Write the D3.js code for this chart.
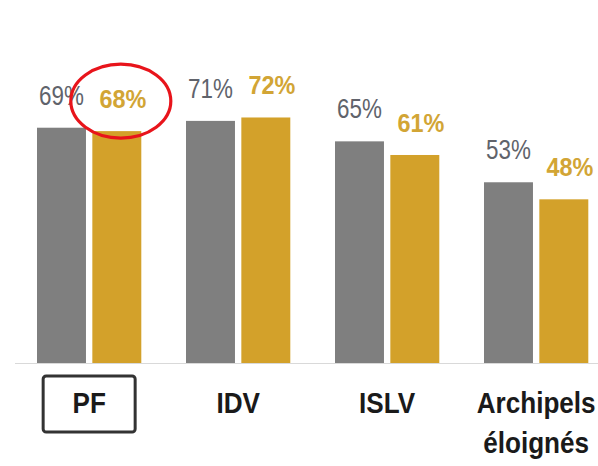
<!DOCTYPE html>
<html>
<head>
<meta charset="utf-8">
<script src="https://cdn.jsdelivr.net/npm/d3@7"></script>
<style>
  html, body { margin: 0; padding: 0; background: #fff; }
  svg { display: block; font-family: "Liberation Sans", Arial, sans-serif; }
</style>
</head>
<body>
<svg id="chart" width="598" height="466"></svg>
<script>
"use strict"

// data
var categories = ["PF", "IDV", "ISLV", "Archipels\néloignés"];
var seriesNames = ["grey", "gold"];
var greyValues = [69, 71, 65, 53];
var goldValues = [68, 72, 61, 48];
var highlighted = "PF";

var colors = { grey: "#7f7f7f", gold: "#d3a12a" };
var labelColors = { grey: "#60636b", gold: "#d2a535" };
var labelStyle = {
    grey: { size: 28, weight: "normal", sx: 0.8, dx: 0 },
    gold: { size: 26, weight: "bold", sx: 0.9, dx: 6 }
};

var svg = d3.select("#chart"),
    width = +svg.attr("width"),
    height = +svg.attr("height");

var baseline = 363;

var x = d3.scaleBand()
    .domain(categories)
    .range([14.65, 610.65])
    .paddingInner(0.3)
    .paddingOuter(0.15);

var xInner = d3.scaleBand()
    .domain(seriesNames)
    .range([0, x.bandwidth()])
    .paddingInner(0.115);

var y = d3.scaleLinear()
    .domain([0, 100])
    .range([baseline, 22]);

var rows = categories.map(function(c, i) {
    return { cat: c, grey: greyValues[i], gold: goldValues[i] };
});

// baseline
svg.append("line")
    .attr("x1", 15)
    .attr("x2", width)
    .attr("y1", baseline + 0.5)
    .attr("y2", baseline + 0.5)
    .attr("stroke", "#d9d9d9")
    .attr("stroke-width", 1.2);

var groups = svg.selectAll("g.group")
    .data(rows)
    .enter().append("g")
    .attr("class", "group")
    .attr("transform", function(d) { return "translate(" + x(d.cat) + ",0)"; });

groups.selectAll("rect")
    .data(function(d) { return seriesNames.map(function(s) { return { key: s, value: d[s] }; }); })
    .enter().append("rect")
    .attr("x", function(d) { return xInner(d.key); })
    .attr("width", xInner.bandwidth())
    .attr("y", function(d) { return y(d.value); })
    .attr("height", function(d) { return baseline - y(d.value); })
    .attr("fill", function(d) { return colors[d.key]; });

// value labels, condensed like the original
groups.selectAll("g.val")
    .data(function(d) { return seriesNames.map(function(s) { return { key: s, value: d[s] }; }); })
    .enter().append("g")
    .attr("class", "val")
    .attr("transform", function(d) {
        var st = labelStyle[d.key];
        var cx = xInner(d.key) + xInner.bandwidth() / 2 + st.dx;
        return "translate(" + cx + "," + (y(d.value) - 23) + ") scale(" + st.sx + ",1)";
    })
    .append("text")
    .attr("text-anchor", "middle")
    .style("font-size", function(d) { return labelStyle[d.key].size + "px"; })
    .style("font-weight", function(d) { return labelStyle[d.key].weight; })
    .attr("fill", function(d) { return labelColors[d.key]; })
    .text(function(d) { return d.value + "%"; });

// category labels
var cats = svg.selectAll("g.cat")
    .data(categories)
    .enter().append("g")
    .attr("class", "cat")
    .attr("transform", function(d) {
        return "translate(" + (x(d) + x.bandwidth() / 2) + ",413) scale(0.87,1)";
    });

cats.append("text")
    .attr("text-anchor", "middle")
    .style("font-size", "30px")
    .style("font-weight", "bold")
    .attr("fill", "#1a1a1a")
    .selectAll("tspan")
    .data(function(d) { return d.split("\n"); })
    .enter().append("tspan")
    .attr("x", 0)
    .attr("dy", function(d, i) { return i ? 40 : 0; })
    .text(function(d) { return d; });

// box around the highlighted category
var cx = x(highlighted) + x.bandwidth() / 2;
svg.append("rect")
    .attr("x", cx - 46)
    .attr("y", 376)
    .attr("width", 92)
    .attr("height", 56)
    .attr("rx", 3)
    .attr("fill", "none")
    .attr("stroke", "#333")
    .attr("stroke-width", 3);

// red circle around the highlighted gold label
var hi = categories.indexOf(highlighted);
svg.append("ellipse")
    .attr("cx", x(highlighted) + xInner("gold") + xInner.bandwidth() / 2 + 4)
    .attr("cy", y(goldValues[hi]) - 30)
    .attr("rx", 50)
    .attr("ry", 37)
    .attr("fill", "none")
    .attr("stroke", "#e8141b")
    .attr("stroke-width", 3.2);
</script>
</body>
</html>
